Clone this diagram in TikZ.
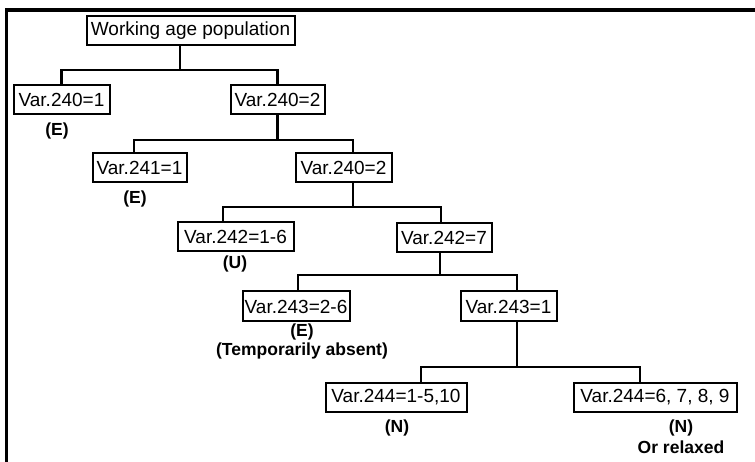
\documentclass[tikz,border=0pt]{standalone}
\usepackage{fontspec}
\setmainfont{Liberation Sans}
\begin{document}
\begin{tikzpicture}[x=1pt,y=-1pt,
  box/.style={draw,line width=2pt,inner sep=0pt,minimum height=29pt,
    font=\fontsize{19}{20}\selectfont},
  lbl/.style={inner sep=0pt,font=\bfseries\fontsize{17.5}{19}\selectfont},
  conn/.style={line width=2.8pt},
  frame/.style={line width=3.2pt}]
\useasboundingbox (0,0) rectangle (755,462);

% outer frame (top and left rules)
\draw[frame] (6.5,462) -- (6.5,10) -- (755,10);

% decision boxes
\node[box,minimum width=208pt] (root) at (190.5,31) {Working age population};
\node[box,minimum width=96pt] (v2401) at (61.5,100) {Var.240=1};
\node[box,minimum width=94pt] (v2402) at (277.5,100) {Var.240=2};
\node[box,minimum width=94pt] (v2411) at (139.5,168) {Var.241=1};
\node[box,minimum width=96pt] (v2402b) at (343.5,168) {Var.240=2};
\node[box,minimum width=116pt] (v242a) at (235.5,237) {Var.242=1-6};
\node[box,minimum width=95pt] (v242b) at (444,238) {Var.242=7};
\node[box,minimum width=107pt,minimum height=30pt] (v243a) at (296,306.5) {Var.243=2-6};
\node[box,minimum width=96pt,minimum height=30pt] (v243b) at (508.5,306.5) {Var.243=1};
\node[box,minimum width=141pt] (v244a) at (396,397.5) {Var.244=1-5,10};
\node[box,minimum width=163pt] (v244b) at (655,397.5) {Var.244=6, 7, 8, 9};

% outcome labels
\node[lbl] (e1) at (57,131) {(E)};
\node[lbl] (e2) at (135,199) {(E)};
\node[lbl] (u1) at (235,264) {(U)};
\node[lbl] (e3) at (302,332) {(E)};
\node[lbl] (tmp) at (302,351) {(Temporarily absent)};
\node[lbl] (n1) at (397,428) {(N)};
\node[lbl] (n2) at (681,428) {(N)};
\node[lbl] (rel) at (681,447) {Or relaxed};

% fork junctions
\coordinate (f1) at (180,70);   \coordinate (f1l) at (61.5,70);  \coordinate (f1r) at (277.5,70);
\coordinate (f2) at (277.5,140);\coordinate (f2l) at (134,140);  \coordinate (f2r) at (353,140);
\coordinate (f3) at (353,207);  \coordinate (f3l) at (223,207);  \coordinate (f3r) at (441,207);
\coordinate (f4) at (440,275);  \coordinate (f4l) at (298,275);  \coordinate (f4r) at (517,275);
\coordinate (f5) at (517,367);  \coordinate (f5l) at (421,367);  \coordinate (f5r) at (640,367);

% connectors
\draw[conn] (root.south -| f1) -- (f1);
\draw[conn] (v2401.north -| f1l) -- (f1l) -- (f1r) -- (v2402.north -| f1r);

\draw[conn] (v2402.south -| f2) -- (f2);
\draw[conn] (v2411.north -| f2l) -- (f2l) -- (f2r) -- (v2402b.north -| f2r);

\draw[conn] (v2402b.south -| f3) -- (f3);
\draw[conn] (v242a.north -| f3l) -- (f3l) -- (f3r) -- (v242b.north -| f3r);

\draw[conn] (v242b.south -| f4) -- (f4);
\draw[conn] (v243a.north -| f4l) -- (f4l) -- (f4r) -- (v243b.north -| f4r);

\draw[conn] (v243b.south -| f5) -- (f5);
\draw[conn] (v244a.north -| f5l) -- (f5l) -- (f5r) -- (v244b.north -| f5r);
\end{tikzpicture}
\end{document}
